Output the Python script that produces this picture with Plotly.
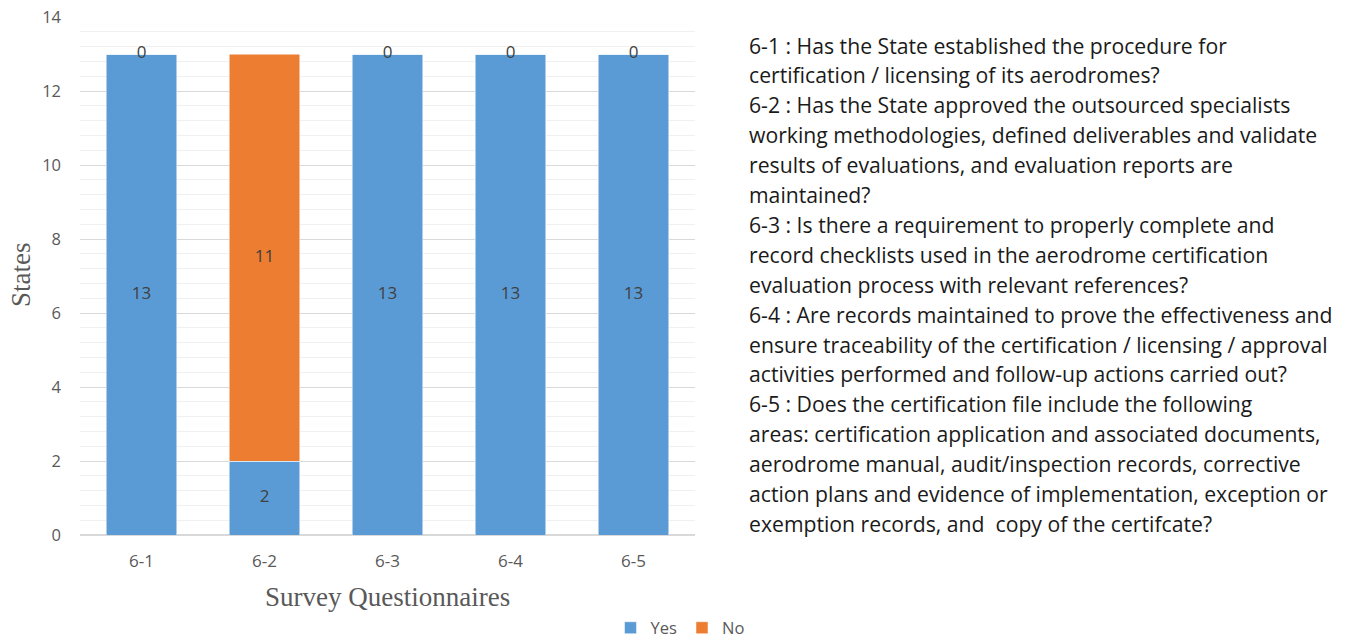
import plotly.graph_objects as go

categories = ["6-1", "6-2", "6-3", "6-4", "6-5"]
yes_values = [13, 2, 13, 13, 13]
no_values = [0, 11, 0, 0, 0]
y_ticks = [0, 2, 4, 6, 8, 10, 12, 14]

x_title = "Survey Questionnaires"
y_title = "States"

notes = [
    "6-1 : Has the State established the procedure for",
    "certification / licensing of its aerodromes?",
    "6-2 : Has the State approved the outsourced specialists",
    "working methodologies, defined deliverables and validate",
    "results of evaluations, and evaluation reports are",
    "maintained?",
    "6-3 : Is there a requirement to properly complete and",
    "record checklists used in the aerodrome certification",
    "evaluation process with relevant references?",
    "6-4 : Are records maintained to prove the effectiveness and",
    "ensure traceability of the certification / licensing / approval",
    "activities performed and follow-up actions carried out?",
    "6-5 : Does the certification file include the following",
    "areas: certification application and associated documents,",
    "aerodrome manual, audit/inspection records, corrective",
    "action plans and evidence of implementation, exception or",
    "exemption records, and  copy of the certifcate?",
]

BLUE = "#5B9BD5"
ORANGE = "#ED7D31"
SANS = "Open Sans, Lato, sans-serif"
SERIF = "Liberation Serif, Times New Roman, serif"
LABEL_FONT = dict(family=SANS, size=17, color="#404040")

fig = go.Figure()
fig.add_trace(go.Bar(name="Yes", x=categories, y=yes_values,
                     marker=dict(color=BLUE, line=dict(color="white", width=0.5))))
fig.add_trace(go.Bar(name="No", x=categories, y=no_values,
                     marker=dict(color=ORANGE, line=dict(color="white", width=0.5))))

# data labels centred on each segment
fig.add_trace(go.Scatter(x=categories, y=[v / 2 for v in yes_values],
                         text=[str(v) for v in yes_values], mode="text",
                         textfont=LABEL_FONT, showlegend=False, hoverinfo="skip"))
fig.add_trace(go.Scatter(x=categories, y=[y + n / 2 for y, n in zip(yes_values, no_values)],
                         text=[str(v) for v in no_values], mode="text",
                         textfont=LABEL_FONT, showlegend=False, hoverinfo="skip"))

W, H = 1350, 638
L, R, T, B = 80, 1350 - 695, 17, 638 - 535
PW, PH = W - L - R, H - T - B


def px_x(x):
    return (x - L) / PW


def px_y(y):
    return 1 - (y - T) / PH


fig.update_layout(
    width=W, height=H,
    barmode="stack", bargap=0.43,
    plot_bgcolor="white", paper_bgcolor="white",
    margin=dict(l=L, r=R, t=T, b=B, autoexpand=False),
    font=dict(family=SANS, color="#595959"),
    legend=dict(orientation="h", x=680 / W, xanchor="center", xref="container",
                y=1 - 628 / H, yref="container", yanchor="middle",
                font=dict(family=SANS, size=16.5, color="#595959"),
                itemwidth=30, traceorder="normal"),
    xaxis=dict(showgrid=False, showline=False, ticks="", automargin=False,
               tickfont=dict(size=17, color="#595959"), ticklabelstandoff=14),
    yaxis=dict(range=[0, 14], tickvals=y_ticks, showline=False, automargin=False,
               ticklabeloverflow="allow",
               gridcolor="#d9d9d9", gridwidth=1, zeroline=True,
               zerolinecolor="#d9d9d9", zerolinewidth=1.5,
               tickfont=dict(size=16.5, color="#595959"), ticklabelstandoff=18,
               minor=dict(dtick=0.4, showgrid=True, gridcolor="#f0f0f0", gridwidth=1)),
)

# axis titles
fig.add_annotation(text=x_title, xref="paper", yref="paper",
                   x=px_x(387), y=px_y(597), xanchor="center", yanchor="middle",
                   showarrow=False, font=dict(family=SERIF, size=27, color="#595959"))
fig.add_annotation(text=y_title, xref="paper", yref="paper", textangle=-90,
                   x=px_x(21), y=px_y(275), xanchor="center", yanchor="middle",
                   showarrow=False, font=dict(family=SERIF, size=27, color="#595959"))

# question notes on the right
line0_px = 45
line_step = 29.9
for i, line in enumerate(notes):
    fig.add_annotation(text=line, xref="paper", yref="paper",
                       x=px_x(747), xanchor="left",
                       y=px_y(line0_px + i * line_step), yanchor="middle",
                       showarrow=False,
                       font=dict(family=SANS, size=21.2, color="#1a1a1a"))

fig.write_html("out.html", config={"displayModeBar": False},
               post_script="document.body.style.margin='0';document.body.style.padding='0';")
